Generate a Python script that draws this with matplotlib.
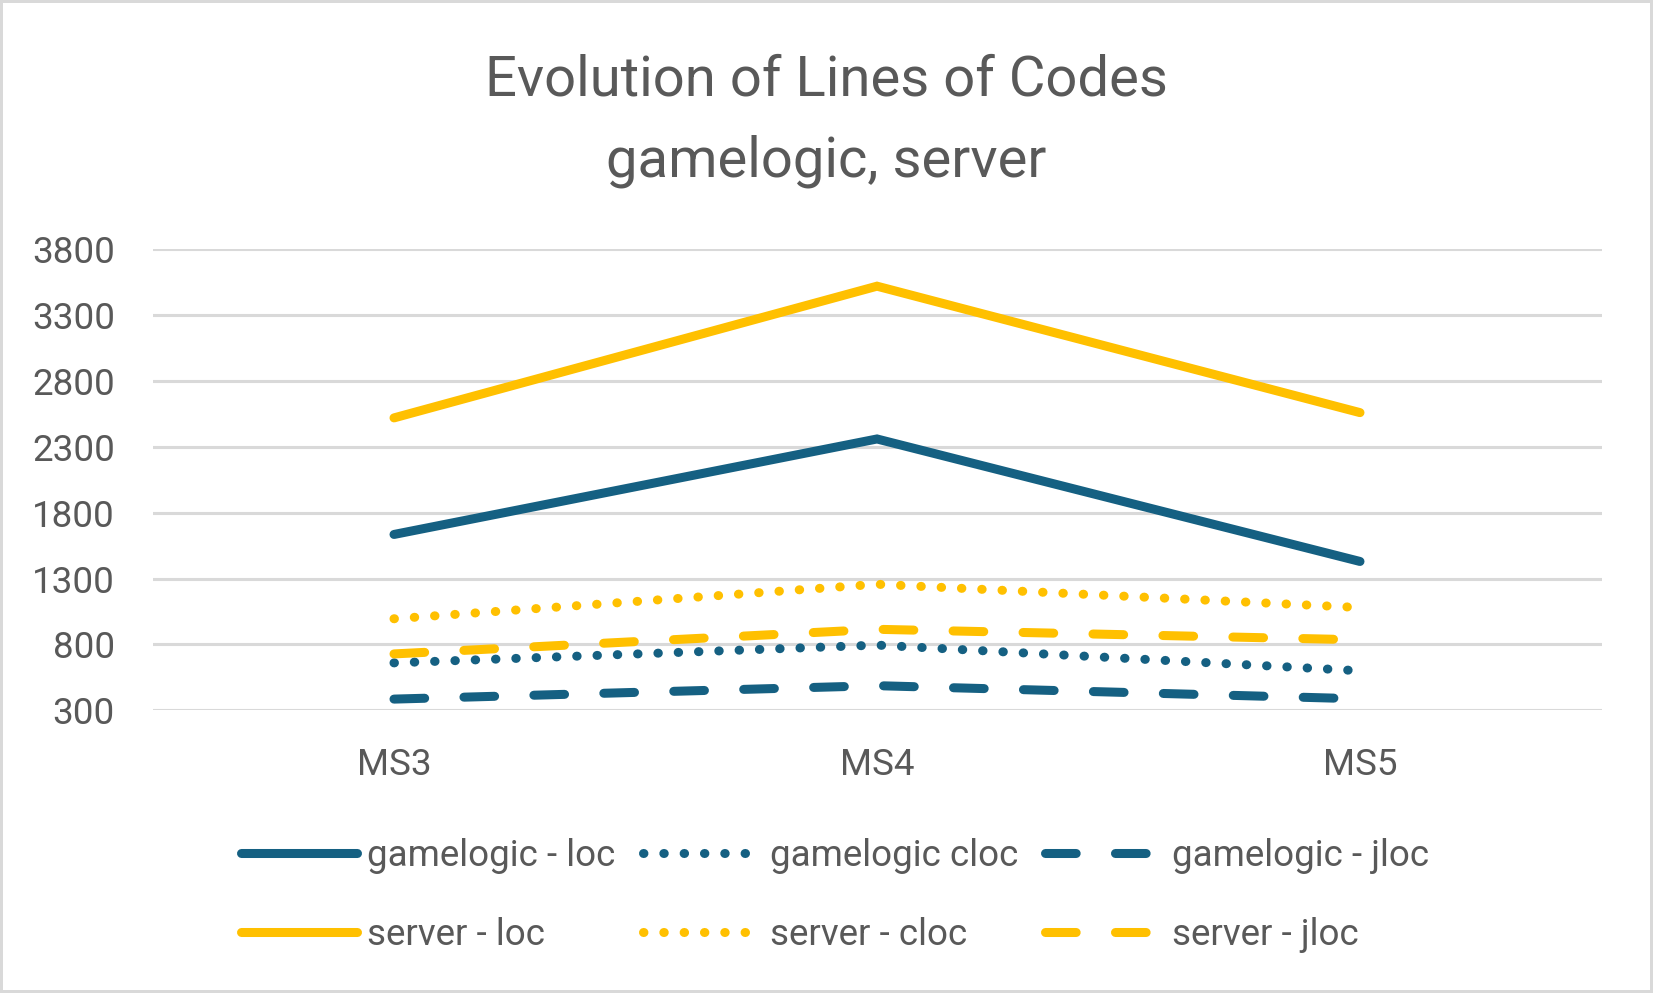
import matplotlib
matplotlib.use("Agg")
import matplotlib.pyplot as plt
from matplotlib.patches import Rectangle

# ---- data ----
categories = ["MS3", "MS4", "MS5"]
gamelogic_loc = [1635, 2360, 1430]
gamelogic_cloc = [660, 795, 600]
gamelogic_jloc = [385, 487, 387]
server_loc = [2520, 3520, 2560]
server_cloc = [995, 1257, 1080]
server_jloc = [728, 915, 835]
y_ticks = [300, 800, 1300, 1800, 2300, 2800, 3300, 3800]
title_lines = ["Evolution of Lines of Codes", "gamelogic, server"]

# ---- style ----
BLUE = "#156082"
YELLOW = "#FFC000"
TEXT = "#595959"
GRID = "#D9D9D9"
FONT = ["Roboto", "DejaVu Sans"]
plt.rcParams["font.family"] = FONT

W, H = 1653, 993
fig = plt.figure(figsize=(W / 100, H / 100), dpi=100)
fig.patch.set_facecolor("white")

top_px, bot_px = 249.3, 710.3
left_px, right_px = 152.5, 1601.5
ax = fig.add_axes([left_px / W, (H - bot_px) / H, (right_px - left_px) / W, (bot_px - top_px) / H])

x = list(range(len(categories)))
LW = 6.5
solid = "-"
dotted = (0, (0.05, 2.2))
dashed = (0, (3.4, 4.35))

series = [
    ("gamelogic - loc", gamelogic_loc, BLUE, solid),
    ("gamelogic cloc", gamelogic_cloc, BLUE, dotted),
    ("gamelogic - jloc", gamelogic_jloc, BLUE, dashed),
    ("server - loc", server_loc, YELLOW, solid),
    ("server - cloc", server_cloc, YELLOW, dotted),
    ("server - jloc", server_jloc, YELLOW, dashed),
]
handles = {}
for i, (name, vals, col, ls) in enumerate(series):
    (ln,) = ax.plot(x, vals, color=col, lw=LW, linestyle=ls,
                    solid_capstyle="round", dash_capstyle="round",
                    solid_joinstyle="miter", clip_on=False, label=name, zorder=3 + i)
    handles[name] = ln

ax.set_xlim(-0.5, 2.5)
ax.set_ylim(300, 3800)
ax.set_yticks(y_ticks)
ax.set_yticklabels([str(v) for v in y_ticks])
ax.set_xticks(x)
ax.set_xticklabels(categories)
ax.grid(axis="y", color=GRID, lw=2.2, zorder=0)
ax.set_axisbelow(True)
for s in ax.spines.values():
    s.set_visible(False)
ax.tick_params(axis="y", length=0, pad=27, labelsize=26.5, labelcolor=TEXT)
ax.tick_params(axis="x", length=0, pad=26.5, labelsize=26.5, labelcolor=TEXT)

# title
fig.text(0.5, 1 - 96 / H, title_lines[0], ha="center", va="baseline",
         fontsize=40.5, color=TEXT)
fig.text(0.5, 1 - 176 / H, title_lines[1], ha="center", va="baseline",
         fontsize=40.5, color=TEXT)

# legend (column-major order so rows read gamelogic / server)
order = ["gamelogic - loc", "server - loc", "gamelogic cloc", "server - cloc",
         "gamelogic - jloc", "server - jloc"]
leg = fig.legend([handles[n] for n in order], order, loc="center",
                 bbox_to_anchor=(0.505, 1 - 895.5 / H), ncol=3, frameon=False,
                 fontsize=26.5, handlelength=3.15, handletextpad=0.29,
                 columnspacing=0.74, labelspacing=1.17, borderpad=0,
                 borderaxespad=0)
for t in leg.get_texts():
    t.set_color(TEXT)

# chart border
fig.add_artist(Rectangle((0, 0), 1, 1, transform=fig.transFigure, fill=False,
                         edgecolor=GRID, lw=4.3, clip_on=False))

fig.savefig("out.png", dpi=100, facecolor="white")
